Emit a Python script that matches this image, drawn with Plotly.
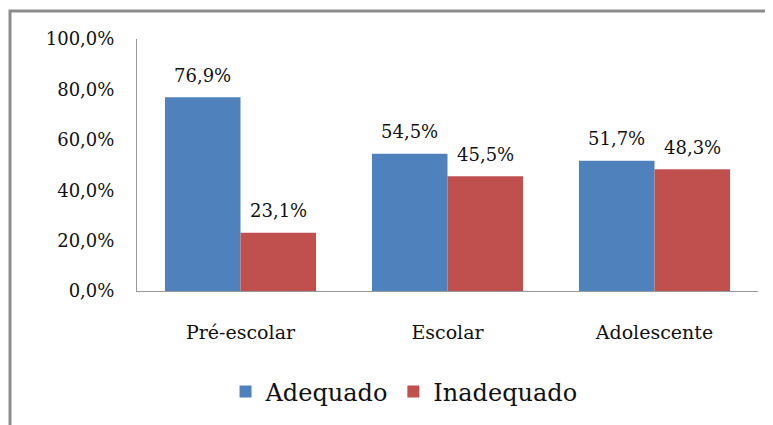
import plotly.graph_objects as go

categories = ["Pré-escolar", "Escolar", "Adolescente"]
adequado = [76.9, 54.5, 51.7]
inadequado = [23.1, 45.5, 48.3]
y_ticks = [0, 20, 40, 60, 80, 100]

BLUE = "#4F81BD"
RED = "#C0504D"
FONT = "DejaVu Serif"


def pct(v):
    return f"{v:.1f}%".replace(".", ",")


fig = go.Figure()
fig.add_trace(go.Bar(x=categories, y=adequado, name="Adequado",
                     marker=dict(color=BLUE, line=dict(width=0)), hoverinfo="skip"))
fig.add_trace(go.Bar(x=categories, y=inadequado, name="Inadequado",
                     marker=dict(color=RED, line=dict(width=0)), hoverinfo="skip"))

# data labels above the bars
for i, cat in enumerate(categories):
    for vals, shift in ((adequado, -38), (inadequado, 38)):
        fig.add_annotation(x=cat, y=vals[i], text=pct(vals[i]), showarrow=False,
                           xshift=shift, yshift=22, yanchor="middle",
                           font=dict(family=FONT, size=18, color="#111"))

# outer chart border (cut off at right and bottom like the source)
fig.add_shape(type="rect", xref="paper", yref="paper",
              x0=-0.2045, x1=1.04, y0=-0.6, y1=1.1107,
              line=dict(color="#8c8c8c", width=3))

fig.update_layout(
    width=765, height=417,
    margin=dict(l=129, r=15, t=31, b=133),
    paper_bgcolor="white", plot_bgcolor="white",
    barmode="group", bargap=0.27, bargroupgap=0,
    font=dict(family=FONT, size=18, color="#111"),
    showlegend=True,
    legend=dict(orientation="h", x=0.43, xanchor="center", y=-0.395, yanchor="middle",
                font=dict(family=FONT, size=24, color="#111"),
                itemwidth=30, traceorder="normal"),
)
fig.update_xaxes(showline=True, linecolor="#9a9a9a", linewidth=1, ticks="",
                 showgrid=False, ticklabelstandoff=24,
                 tickfont=dict(family=FONT, size=19, color="#111"))
fig.update_yaxes(range=[0, 100], tickvals=y_ticks, ticktext=[pct(v) for v in y_ticks],
                 showline=True, linecolor="#9a9a9a", linewidth=1, ticks="",
                 showgrid=False, zeroline=False, ticklabelstandoff=18,
                 tickfont=dict(family=FONT, size=18, color="#111"))

fig.write_html("out.html")
